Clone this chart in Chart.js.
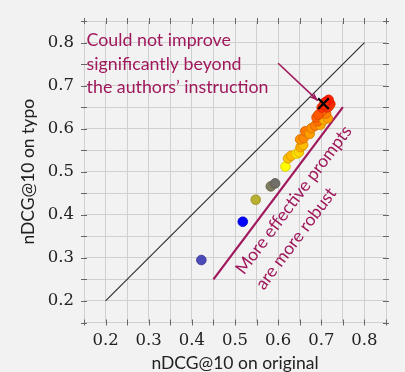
<!DOCTYPE html>
<html><head><meta charset="utf-8">
<script src="https://cdn.jsdelivr.net/npm/chart.js@4"></script>
<style>html,body{margin:0;padding:0;background:#f2f2f2;overflow:hidden}</style>
</head><body>
<canvas id="c" width="405" height="372"></canvas>
<script>
// ---- data ----
const xOriginal = [0.422,0.518,0.548,0.583,0.593,0.617,0.623,0.630,0.643,0.648,0.652,0.658,0.651,0.659,0.663,0.673,0.677,0.686,0.698,0.692,0.689,0.707,0.715,0.711,0.701,0.693,0.713,0.701,0.717,0.721,0.719,0.717,0.710,0.706];
const yTypo     = [0.295,0.384,0.435,0.466,0.473,0.512,0.531,0.537,0.542,0.545,0.557,0.562,0.575,0.578,0.594,0.588,0.601,0.607,0.609,0.617,0.626,0.621,0.624,0.635,0.640,0.632,0.649,0.649,0.651,0.657,0.659,0.667,0.662,0.655];
const authorsX = [0.705];
const authorsY = [0.658];
const diagonalX = [0.2, 0.8];
const diagonalY = [0.2, 0.8];
const robustLineX = [0.45, 0.75];
const robustLineY = [0.25, 0.65];
const arrowX = [0.600, 0.692];
const arrowY = [0.752, 0.665];
const tickLabels = [0.2,0.3,0.4,0.5,0.6,0.7,0.8];
const noteLines = ["Could not improve","significantly beyond","the authors\u2019 instruction"];
const noteAnchor = {x:0.156, y:0.791};
const robustText = ["More effective prompts","are more robust"];
const robustAnchorX = [0.521, 0.567];
const robustAnchorY = [0.259, 0.224];

// ---- styles ----
const pointColors = ['#4a4ab8','#0000ff','#b8b030','#7c7c5e','#707068','#ffff00','#ffc400','#ffb800','#ffee00','#ffd800','#ffb000','#ffbc00','#ff9400','#ff8800','#ff7a00','#ffa000','#ff9000','#ff8000','#ffa800','#ff7000','#ff6000','#ffb000','#ffa000','#ff8000','#ff6a00','#ff5800','#ff4000','#ff3400','#ff3800','#ff4800','#ff2a00','#ff2000','#ff1800','#ff2800'];
const PURPLE = '#a0185c';
function darker(hex){const n=parseInt(hex.slice(1),16);const r=(n>>16)&255,g=(n>>8)&255,b=n&255;return `rgba(${Math.round(r*0.85)},${Math.round(g*0.8)},${Math.round(b*0.8)},0.9)`;}
function toPts(xs,ys){return xs.map((x,i)=>({x:x,y:ys[i]}));}

const decorPlugin = {
  id:'decor',
  beforeDraw(chart){const c=chart.ctx;c.save();c.fillStyle='#f2f2f2';c.fillRect(0,0,chart.width,chart.height);c.restore();},
  afterDraw(chart){
    const c=chart.ctx, xs=chart.scales.x, ys=chart.scales.y, a=chart.chartArea;
    c.save();
    c.strokeStyle='#666'; c.lineWidth=1;
    xs.ticks.forEach(t=>{const p=Math.round(xs.getPixelForValue(t.value))+0.5;
      c.beginPath();c.moveTo(p,a.bottom-3);c.lineTo(p,a.bottom+3);c.moveTo(p,a.top-3);c.lineTo(p,a.top+3);c.stroke();});
    ys.ticks.forEach(t=>{const p=Math.round(ys.getPixelForValue(t.value))+0.5;
      c.beginPath();c.moveTo(a.left-3,p);c.lineTo(a.left+3,p);c.moveTo(a.right-3,p);c.lineTo(a.right+3,p);c.stroke();});
    const x0=xs.getPixelForValue(arrowX[0]),y0=ys.getPixelForValue(arrowY[0]);
    const x1=xs.getPixelForValue(arrowX[1]),y1=ys.getPixelForValue(arrowY[1]);
    const ang=Math.atan2(y1-y0,x1-x0);
    c.fillStyle=PURPLE;c.beginPath();
    c.moveTo(x1,y1);
    c.lineTo(x1-9*Math.cos(ang)+3.5*Math.sin(ang), y1-9*Math.sin(ang)-3.5*Math.cos(ang));
    c.lineTo(x1-6*Math.cos(ang), y1-6*Math.sin(ang));
    c.lineTo(x1-9*Math.cos(ang)-3.5*Math.sin(ang), y1-9*Math.sin(ang)+3.5*Math.cos(ang));
    c.closePath();c.fill();
    c.fillStyle=PURPLE;c.font='17.8px Lato';c.textAlign='left';c.textBaseline='alphabetic';
    const nx=xs.getPixelForValue(noteAnchor.x), ny=ys.getPixelForValue(noteAnchor.y);
    noteLines.forEach((s,i)=>c.fillText(s,nx,ny+i*23.5));
    const rx0=xs.getPixelForValue(robustLineX[0]),ry0=ys.getPixelForValue(robustLineY[0]);
    const rx1=xs.getPixelForValue(robustLineX[1]),ry1=ys.getPixelForValue(robustLineY[1]);
    const rang=Math.atan2(ry1-ry0,rx1-rx0);
    c.font='17.5px Lato';
    robustText.forEach((s,i)=>{c.save();c.translate(xs.getPixelForValue(robustAnchorX[i]),ys.getPixelForValue(robustAnchorY[i]));c.rotate(rang);c.fillText(s,0,0);c.restore();});
    c.restore();
  }
};

const tickFont={family:"'DejaVu Serif','Liberation Serif',serif",size:16.5};
const fmt=v=>{const r=Math.round(v*10)/10;return (Math.abs(v-r)<1e-6 && tickLabels.some(t=>Math.abs(t-r)<1e-6))?r.toFixed(1):'';};

new Chart(document.getElementById('c'),{
  type:'scatter',
  data:{datasets:[
    {data:toPts(authorsX,authorsY),pointStyle:'crossRot',radius:7.5,borderColor:'#000',borderWidth:2.2,backgroundColor:'#000'},
    {data:toPts(xOriginal,yTypo),radius:4.8,backgroundColor:pointColors.map(c=>c),borderColor:pointColors.map(darker),borderWidth:1},
    {type:'line',data:toPts(arrowX,arrowY),borderColor:PURPLE,borderWidth:1.6,pointRadius:0},
    {type:'line',data:toPts(diagonalX,diagonalY),borderColor:'#2a2a2a',borderWidth:1.1,pointRadius:0},
    {type:'line',data:toPts(robustLineX,robustLineY),borderColor:PURPLE,borderWidth:2.2,pointRadius:0}
  ]},
  options:{
    responsive:false,animation:false,devicePixelRatio:1,
    layout:{padding:{top:21,right:19,left:0,bottom:0}},
    plugins:{legend:{display:false},tooltip:{enabled:false}},
    scales:{
      x:{type:'linear',min:0.15,max:0.85,border:{display:false},
        grid:{color:'#d0d0d0',lineWidth:1,drawTicks:false},
        ticks:{stepSize:0.05,autoSkip:false,maxRotation:0,padding:8,color:'#222',font:tickFont,callback:fmt},
        title:{display:true,text:'nDCG@10 on original',color:'#222',font:{family:'Lato',size:17.5,lineHeight:1},padding:{top:0,bottom:0}},
        afterFit(s){s.height=49.5;}},
      y:{type:'linear',min:0.15,max:0.85,border:{display:false},
        grid:{color:'#d0d0d0',lineWidth:1,drawTicks:false},
        ticks:{stepSize:0.05,autoSkip:false,padding:10,color:'#222',font:tickFont,callback:fmt},
        title:{display:true,text:'nDCG@10 on typo',color:'#222',font:{family:'Lato',size:17.5,lineHeight:1},padding:{top:19.5,bottom:0}},
        afterFit(s){s.width=84;}}
    }
  },
  plugins:[decorPlugin]
});
</script>
</body></html>
